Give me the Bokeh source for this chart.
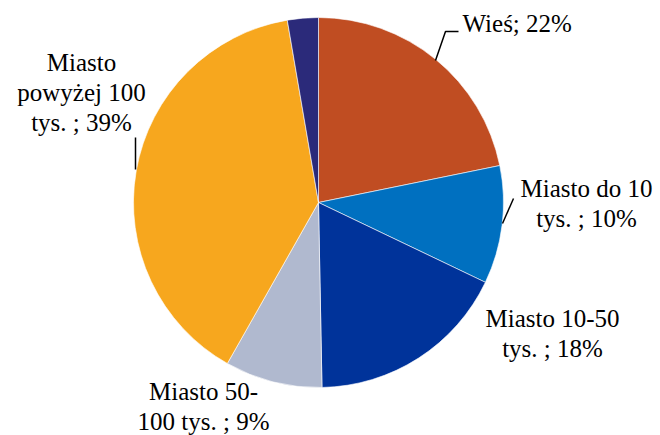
import math
from bokeh.plotting import figure
from bokeh.models import Range1d
from bokeh.core.properties import value
from bokeh.embed import file_html
from bokeh.resources import INLINE

# Data (clockwise from 12 o'clock)
categories = ["Wieś", "Miasto do 10 tys. ", "Miasto 10-50 tys. ", "Miasto 50-100 tys. ",
              "Miasto powyżej 100 tys. ", "Inne"]
shares = [21.8, 10.3, 17.6, 8.5, 39.1, 2.7]
label_pcts = [22, 10, 18, 9, 39, None]
colors = ["#C04D22", "#0070C0", "#00339A", "#B0B9CF", "#F7A71E", "#2B2A7A"]

# label lines (line breaks as in the picture)
label_lines = [
    ["Wieś; 22%"],
    ["Miasto do 10", "tys. ; 10%"],
    ["Miasto 10-50", "tys. ; 18%"],
    ["Miasto 50-", "100 tys. ; 9%"],
    ["Miasto", "powyżej 100", "tys. ; 39%"],
    [],
]

W, H = 660, 435
p = figure(width=W, height=H, output_backend="svg", toolbar_location=None,
           x_range=Range1d(0, W), y_range=Range1d(-H, 0),
           min_border=0)
p.axis.visible = False
p.grid.visible = False
p.outline_line_color = None
p.background_fill_color = "white"

cx, cy, r = 318, -202, 185
total = sum(shares)
cum = 0.0
starts, ends = [], []
for s in shares:
    a0 = cum / total * 2 * math.pi
    cum += s
    a1 = cum / total * 2 * math.pi
    starts.append(math.pi / 2 - a0)
    ends.append(math.pi / 2 - a1)

p.wedge(x=[cx] * len(shares), y=[cy] * len(shares), radius=r,
        start_angle=starts, end_angle=ends, direction="clock",
        fill_color=colors, line_color="white", line_width=0.6)

# label anchor positions (centre of first line), in page pixel coords
anchors = [(462, 23, "left"), (586, 188, "center"), (552, 318, "center"),
           (203, 391, "center"), (81, 62, "center"), None]
line_h = 30
for lines, anc in zip(label_lines, anchors):
    if anc is None:
        continue
    ax, ay, al = anc
    for i, t in enumerate(lines):
        p.text(x=[ax], y=[-(ay + i * line_h)], text=[t], text_align=al,
               text_baseline="middle", text_font=value("Liberation Serif"),
               text_font_size="25px", text_color="black")

# leader lines
leaders = [
    ([435, 445, 458], [60, 31, 31]),
    ([502, 513], [223, 198]),
    ([135, 135], [169, 137]),
]
for lx, ly in leaders:
    p.line(x=lx, y=[-v for v in ly], line_color="black", line_width=1.5)

open("out.html", "w").write(file_html(p, INLINE))
